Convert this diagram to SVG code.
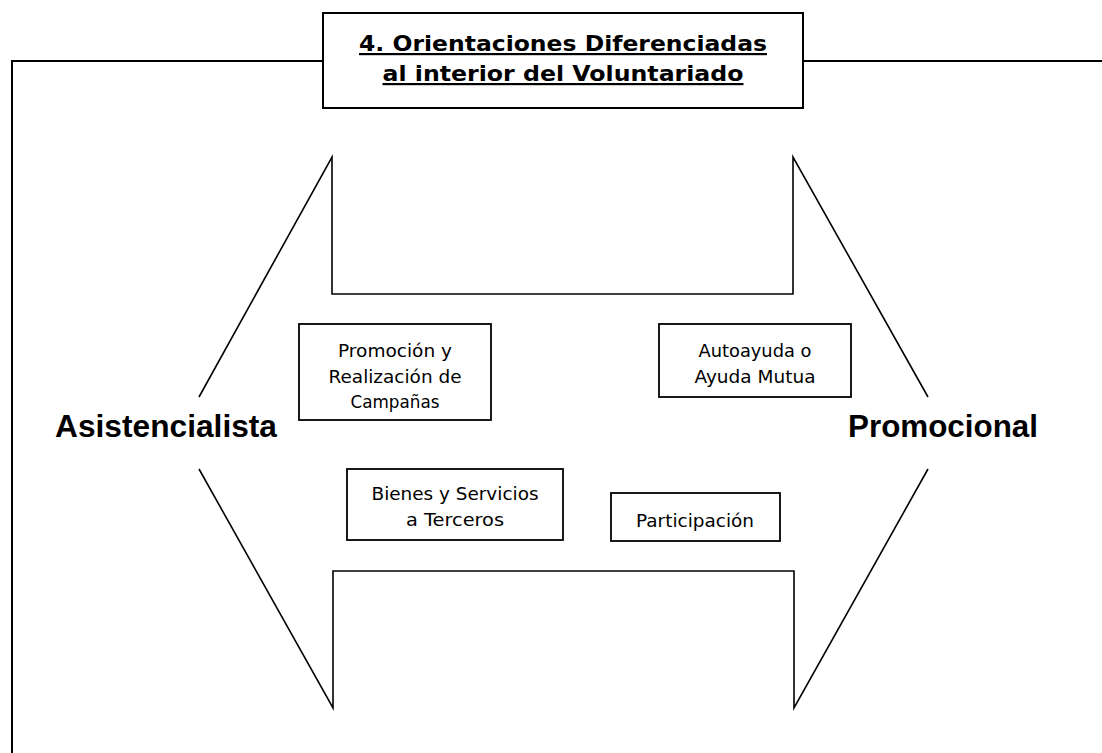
<svg xmlns="http://www.w3.org/2000/svg" width="1102" height="753" viewBox="0 0 1102 753">
<style>
.ln{fill:none;stroke:#000;stroke-width:1.6}
.fr{fill:none;stroke:#000;stroke-width:2}
.bx{fill:#fff;stroke:#000;stroke-width:1.8}
.t{font-family:"DejaVu Sans","Liberation Sans",sans-serif;font-size:18px;fill:#000;text-anchor:middle}
.h{font-family:"DejaVu Sans","Liberation Sans",sans-serif;font-size:22px;font-weight:bold;fill:#000;text-anchor:middle;text-decoration:underline}
.b{font-family:"Liberation Sans",Arial,sans-serif;font-size:32px;font-weight:bold;fill:#000}
</style>
<rect width="1102" height="753" fill="#fff"/>
<g id="frame">
<path class="fr" d="M12,753 V61 H323 M803,61 H1102"/>
</g>
<g id="title">
<rect class="fr" x="323" y="13" width="480" height="95" fill="#fff"/>
<text class="h" x="563" y="51" textLength="408" lengthAdjust="spacingAndGlyphs">4. Orientaciones Diferenciadas</text>
<text class="h" x="563" y="81" textLength="361" lengthAdjust="spacingAndGlyphs">al interior del Voluntariado</text>
</g>
<g id="connectors">
<path class="ln" d="M199,397 L332,157 V294 H793 V157 L928,397"/>
<path class="ln" d="M199,469 L333,708 V571 H794 V708 L928,469"/>
</g>
<g id="asistencialista">
<text class="b" x="55" y="437" textLength="222" lengthAdjust="spacingAndGlyphs">Asistencialista</text>
</g>
<g id="promocional">
<text class="b" x="848" y="437" textLength="190" lengthAdjust="spacingAndGlyphs">Promocional</text>
</g>
<g id="promocion">
<rect class="bx" x="299" y="324" width="192" height="96"/>
<text class="t" x="395" y="357" textLength="114" lengthAdjust="spacingAndGlyphs">Promoción y</text>
<text class="t" x="395" y="383" textLength="133" lengthAdjust="spacingAndGlyphs">Realización de</text>
<text class="t" x="395" y="408" textLength="89" lengthAdjust="spacingAndGlyphs">Campañas</text>
</g>
<g id="autoayuda">
<rect class="bx" x="659" y="324" width="192" height="73"/>
<text class="t" x="755" y="357" textLength="113" lengthAdjust="spacingAndGlyphs">Autoayuda o</text>
<text class="t" x="755" y="383" textLength="121" lengthAdjust="spacingAndGlyphs">Ayuda Mutua</text>
</g>
<g id="bienes">
<rect class="bx" x="347" y="469" width="216" height="71"/>
<text class="t" x="455" y="500" textLength="167" lengthAdjust="spacingAndGlyphs">Bienes y Servicios</text>
<text class="t" x="455" y="526" textLength="98" lengthAdjust="spacingAndGlyphs">a Terceros</text>
</g>
<g id="participacion">
<rect class="bx" x="611" y="493" width="169" height="48"/>
<text class="t" x="695" y="527" textLength="118" lengthAdjust="spacingAndGlyphs">Participación</text>
</g>
</svg>
